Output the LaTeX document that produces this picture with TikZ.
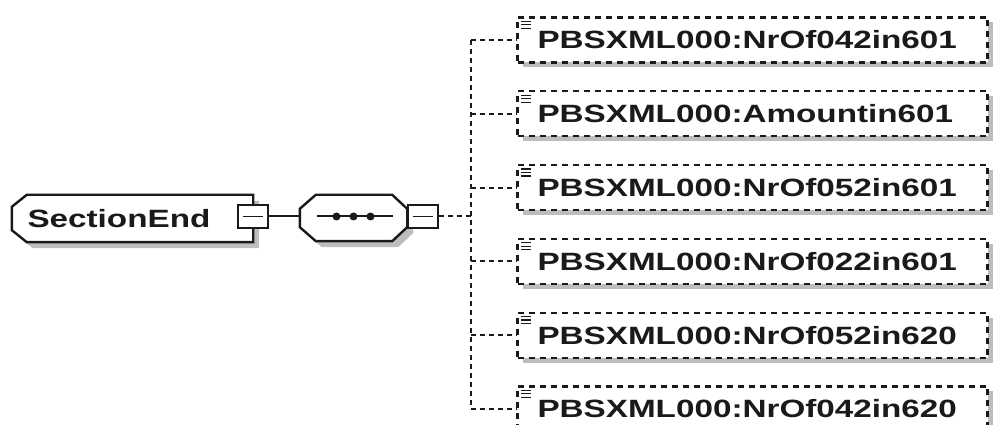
\documentclass[tikz,border=0pt]{standalone}
\usepackage{fontspec}
\setmainfont{Liberation Sans}
\newfontfamily\schemafont[FakeStretch=1.33]{Liberation Sans}
\usetikzlibrary{positioning,shadows,backgrounds}
\definecolor{Ink}{HTML}{1A1A1A}
\definecolor{Shade}{HTML}{BDBDBD}
\tikzset{
  elembox/.style={
    rectangle, minimum width=241pt, minimum height=47pt, inner sep=0pt,
    text width=210pt, align=left, text=Ink,
    font=\schemafont\bfseries\fontsize{25}{30}\selectfont
  },
  seqbox/.style={
    rectangle, minimum width=107pt, minimum height=46pt, inner sep=0pt
  },
  outline/.style={
    draw=Ink, line width=2.4pt, fill=white, line join=miter,
    drop shadow={shadow xshift=6pt, shadow yshift=-6pt, fill=Shade, opacity=1}
  },
  minusbox/.style={
    rectangle, draw=Ink, line width=2pt, fill=white, inner sep=0pt,
    minimum width=30pt, minimum height=23pt,
    path picture={\draw[line width=1.8pt,Ink]
      ([xshift=5pt]path picture bounding box.west) --
      ([xshift=-5pt]path picture bounding box.east);}
  },
  childbox/.style={
    rectangle, draw=Ink, line width=2.2pt, dash pattern=on 6pt off 5pt,
    fill=white, minimum height=45pt, inner xsep=20pt, inner ysep=0pt,
    text width=430pt, align=left, text=Ink,
    font=\schemafont\bfseries\fontsize{25}{30}\selectfont,
    drop shadow={shadow xshift=5pt, shadow yshift=-5pt, fill=Shade, opacity=1}
  },
  link/.style={line width=2pt, draw=Ink},
  optlink/.style={line width=2pt, draw=Ink, dash pattern=on 5pt off 4pt}
}
\begin{document}
\begin{tikzpicture}[x=1pt,y=1pt,node distance=26.6pt]
  \useasboundingbox (0,0) rectangle (995,425);
  % element and its sequence
  \node[elembox] (sect) at (132.5,206.5) {SectionEnd};
  \node[seqbox] (seq) at (353.5,207) {};
  \begin{scope}[on background layer]
    \path[outline] ([xshift=15pt]sect.north west) -- (sect.north east)
      -- (sect.south east) -- ([xshift=15pt]sect.south west)
      -- ([yshift=12pt]sect.south west) -- ([yshift=-12pt]sect.north west) -- cycle;
    \path[outline] ([xshift=16pt]seq.north west) -- ([xshift=-15pt]seq.north east)
      -- ([yshift=-14pt]seq.north east) -- ([yshift=14pt]seq.south east)
      -- ([xshift=-15pt]seq.south east) -- ([xshift=16pt]seq.south west)
      -- ([yshift=14pt]seq.south west) -- ([yshift=-14pt]seq.north west) -- cycle;
  \end{scope}
  \node[minusbox] (m1) at (sect.east |- 0,208.5) {};
  \node[minusbox] (m2) at (422.5,208.5) {};
  \draw[link] (m1) -- (m1 -| seq.west);
  \draw[line width=2pt,Ink] ([xshift=17pt]seq.west |- m2) -- ([xshift=-14pt]seq.east |- m2);
  \foreach \dx in {-17,0,17}
    \fill[Ink] ([xshift=\dx pt]seq.center |- m2) circle (4pt);
  % children
  \coordinate (bus) at (471,0);
  \node[childbox] (c1) at (752.5,385) {PBSXML000:NrOf042in601};
  \node[childbox,below=of c1] (c2) {PBSXML000:Amountin601};
  \node[childbox,below=of c2] (c3) {PBSXML000:NrOf052in601};
  \node[childbox,below=of c3] (c4) {PBSXML000:NrOf022in601};
  \node[childbox,below=of c4] (c5) {PBSXML000:NrOf052in620};
  \node[childbox,below=of c5] (c6) {PBSXML000:NrOf042in620};
  \draw[optlink] (m2) -- (bus |- m2);
  \draw[optlink] (bus |- c1.west) -- (bus |- c6.west);
  \foreach \i in {1,...,6}{
    \draw[optlink] (bus |- c\i.west) -- (c\i.west);
    \foreach \dy in {5,8.5,12}
      \draw[line width=1.2pt,Ink] ([xshift=5pt,yshift=-\dy pt]c\i.north west) -- ++(10,0);
  }
\end{tikzpicture}
\end{document}
